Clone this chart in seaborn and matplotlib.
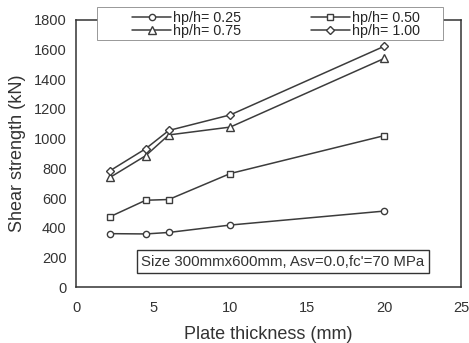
import pandas as pd
import seaborn as sns
import matplotlib.pyplot as plt
from matplotlib.patches import Rectangle

sns.set_theme(style="white")
plt.rcParams['font.family'] = ['Liberation Sans', 'DejaVu Sans']

# Plate thickness (mm)
thickness = [2.2, 4.5, 6, 10, 20]
# Shear strength (kN) for each depth ratio
v_025 = [360, 358, 368, 418, 512]
v_050 = [475, 585, 590, 765, 1020]
v_075 = [740, 885, 1025, 1078, 1540]
v_100 = [785, 932, 1055, 1160, 1622]
series = ["hp/h= 0.25", "hp/h= 0.50", "hp/h= 0.75", "hp/h= 1.00"]

rows = []
for name, vals in zip(series, [v_025, v_050, v_075, v_100]):
    for t, v in zip(thickness, vals):
        rows.append({"thickness": t, "strength": v, "series": name})
df = pd.DataFrame(rows)

line_col = "#3c3c3c"
txt_col = "#333333"
markers = {series[0]: "o", series[1]: "s", series[2]: "^", series[3]: "D"}
sizes = {series[0]: 4.5, series[1]: 4.5, series[2]: 5.5, series[3]: 4.2}

fig = plt.figure(figsize=(4.69, 3.43), dpi=100)
ax = fig.add_axes([0.163, 0.163, 0.820, 0.779])

for name in series:
    sub = df[df["series"] == name]
    sns.lineplot(data=sub, x="thickness", y="strength", ax=ax, color=line_col,
                 marker=markers[name], markersize=sizes[name], markerfacecolor="white",
                 markeredgecolor=line_col, markeredgewidth=1.0, linewidth=1.1,
                 label=name)

ax.set_xlim(0, 25)
ax.set_ylim(0, 1800)
ax.set_xticks([0, 5, 10, 15, 20, 25])
ax.set_yticks(range(0, 1801, 200))
ax.tick_params(axis="y", direction="out", length=3, width=0.8, color=line_col,
               labelsize=10.5, labelcolor=txt_col, pad=4)
ax.tick_params(axis="x", direction="in", length=3, width=0.8, color=line_col,
               labelsize=10.5, labelcolor=txt_col, pad=10)
for s in ax.spines.values():
    s.set_color("#333333")
    s.set_linewidth(1.1)

ax.set_xlabel("Plate thickness (mm)", fontsize=13, color=txt_col, labelpad=8)
ax.set_ylabel("Shear strength (kN)", fontsize=13, color=txt_col, labelpad=6)

# legend frame drawn separately so the entries can sit inside a wide box
box = Rectangle((0.0545, 0.925), 0.899, 0.124, transform=ax.transAxes,
                facecolor="white", edgecolor="#888888", linewidth=0.6,
                clip_on=False, zorder=4)
ax.add_patch(box)

handles, labels = ax.get_legend_handles_labels()
order = [0, 2, 1, 3]
leg = ax.legend([handles[i] for i in order], [labels[i] for i in order], ncol=2,
                loc="upper left", bbox_to_anchor=(0.145, 1.033), fontsize=10.3,
                frameon=False, handlelength=2.7, handletextpad=0.15,
                columnspacing=4.9, borderpad=0, borderaxespad=0, labelspacing=-0.08)
leg.set_zorder(5)

ax.text(13.4, 172, "Size 300mmx600mm, Asv=0.0,fc'=70 MPa", fontsize=10.8,
        color=txt_col, ha="center", va="center",
        bbox=dict(boxstyle="square,pad=0.3", facecolor="white",
                  edgecolor="#333333", linewidth=1.0))

fig.savefig("out.png", dpi=100)
